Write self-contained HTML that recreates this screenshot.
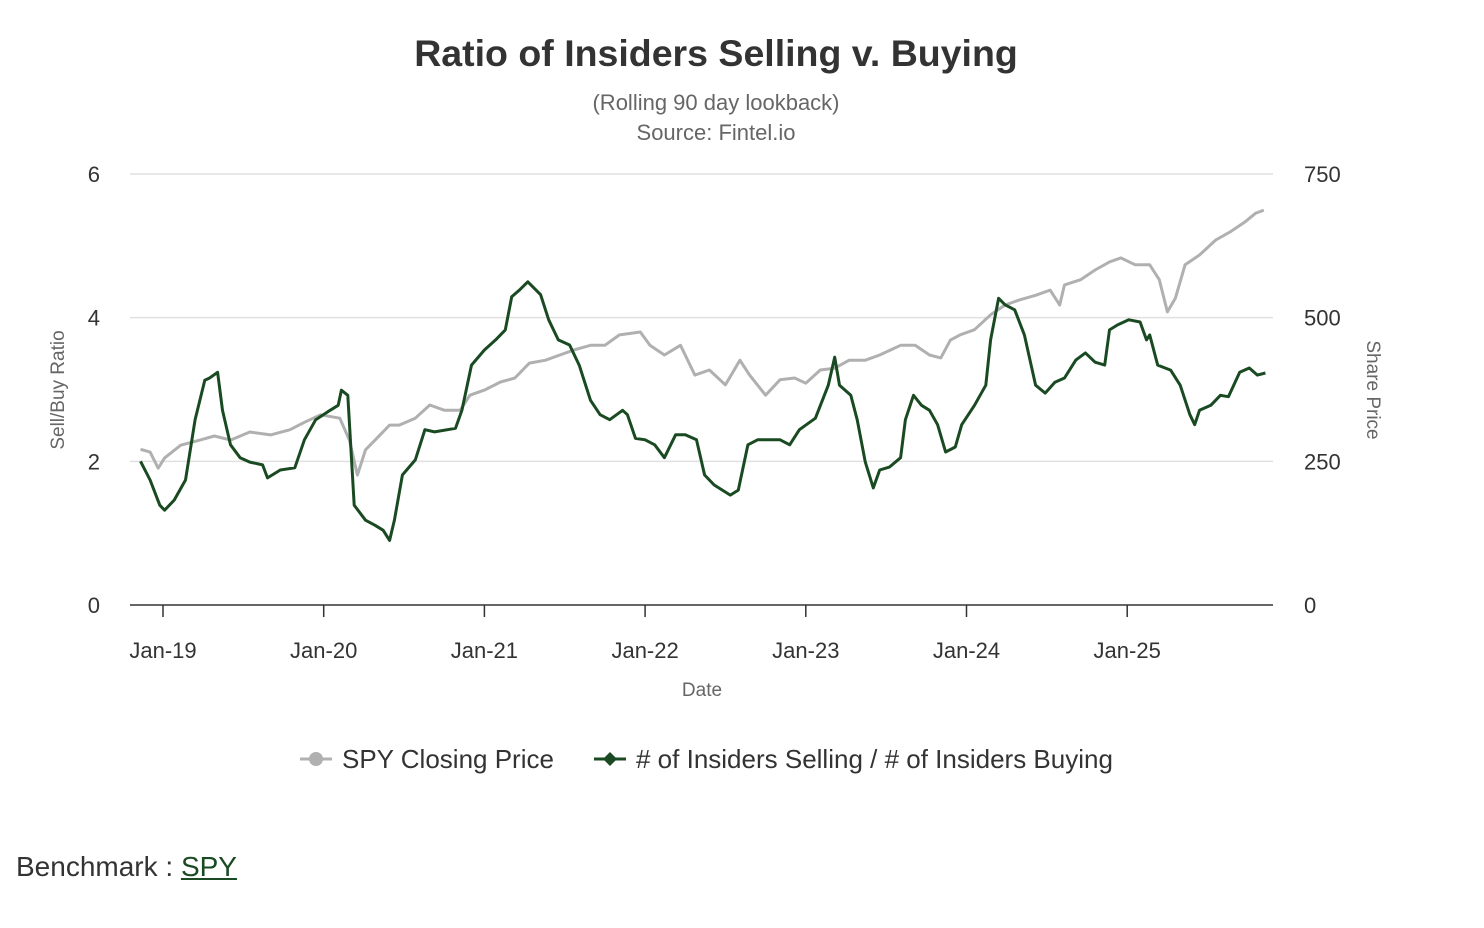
<!DOCTYPE html>
<html><head><meta charset="utf-8">
<style>
body{margin:0;background:#fff;font-family:"Liberation Sans",sans-serif;}
#wrap{position:relative;width:1484px;height:928px;overflow:hidden;}
#bench{position:absolute;left:16px;top:851px;font-size:28px;color:#333;}
#bench a{color:#1a4a22;text-decoration:underline;}
</style></head>
<body>
<div id="wrap">
<svg id="chart" width="1484" height="840">
 <text x="716" y="66" text-anchor="middle" font-size="37.5" font-weight="bold" fill="#333">Ratio of Insiders Selling v. Buying</text>
 <text x="716" y="110" text-anchor="middle" font-size="22" fill="#666">(Rolling 90 day lookback)</text>
 <text x="716" y="140" text-anchor="middle" font-size="22" fill="#666">Source: Fintel.io</text>
 <g id="grid"></g>
 <g id="axes"></g>
 <g id="series"></g>
 <text x="702" y="696" text-anchor="middle" font-size="19" fill="#666">Date</text>
 <text transform="translate(64,390) rotate(-90)" text-anchor="middle" font-size="19" fill="#666">Sell/Buy Ratio</text>
 <text transform="translate(1367,390) rotate(90)" text-anchor="middle" font-size="19" fill="#666">Share Price</text>
 <g>
  <line x1="300" y1="759" x2="332" y2="759" stroke="#b0b0b0" stroke-width="3"/>
  <circle cx="316" cy="759" r="7" fill="#b0b0b0"/>
  <text x="342" y="768" font-size="26" fill="#333">SPY Closing Price</text>
 </g>
 <g>
  <line x1="594" y1="759" x2="626" y2="759" stroke="#1a4a22" stroke-width="3"/>
  <path d="M610 752 L617 759 L610 766 L603 759Z" fill="#1a4a22"/>
  <text x="636" y="768" font-size="26" fill="#333"># of Insiders Selling / # of Insiders Buying</text>
 </g>
</svg>
<div id="bench">Benchmark : <a>SPY</a></div>
</div>
<script>
const ratioDates=[2018.86,2018.92,2018.98,2019.01,2019.07,2019.14,2019.20,2019.26,2019.29,2019.34,2019.37,2019.42,2019.48,2019.54,2019.62,2019.65,2019.73,2019.82,2019.88,2019.95,2020.04,2020.09,2020.11,2020.15,2020.19,2020.26,2020.32,2020.37,2020.41,2020.44,2020.49,2020.57,2020.63,2020.69,2020.82,2020.86,2020.92,2021.00,2021.07,2021.13,2021.17,2021.22,2021.27,2021.35,2021.40,2021.46,2021.53,2021.59,2021.66,2021.72,2021.78,2021.86,2021.89,2021.94,2022.00,2022.06,2022.12,2022.19,2022.25,2022.32,2022.37,2022.43,2022.53,2022.58,2022.64,2022.70,2022.76,2022.84,2022.90,2022.96,2023.06,2023.14,2023.18,2023.21,2023.28,2023.32,2023.37,2023.42,2023.46,2023.52,2023.59,2023.62,2023.67,2023.72,2023.77,2023.82,2023.87,2023.93,2023.97,2024.05,2024.12,2024.15,2024.20,2024.24,2024.30,2024.36,2024.43,2024.49,2024.55,2024.61,2024.68,2024.74,2024.80,2024.86,2024.89,2024.94,2025.01,2025.08,2025.12,2025.14,2025.19,2025.27,2025.33,2025.39,2025.42,2025.45,2025.52,2025.58,2025.63,2025.70,2025.76,2025.81,2025.86];
const ratioValues=[2.00,1.74,1.39,1.32,1.46,1.74,2.58,3.13,3.16,3.24,2.71,2.23,2.05,1.99,1.95,1.77,1.88,1.91,2.30,2.58,2.71,2.78,2.99,2.92,1.39,1.18,1.11,1.04,0.90,1.18,1.81,2.02,2.44,2.41,2.46,2.71,3.34,3.55,3.69,3.83,4.29,4.39,4.50,4.32,3.97,3.69,3.62,3.34,2.85,2.65,2.58,2.71,2.65,2.32,2.30,2.23,2.05,2.37,2.37,2.30,1.81,1.67,1.53,1.60,2.23,2.30,2.30,2.30,2.23,2.44,2.60,3.06,3.45,3.06,2.92,2.58,1.99,1.63,1.88,1.92,2.05,2.58,2.92,2.78,2.71,2.51,2.13,2.20,2.51,2.78,3.06,3.69,4.27,4.18,4.11,3.76,3.06,2.95,3.10,3.16,3.41,3.51,3.38,3.34,3.83,3.90,3.97,3.94,3.69,3.76,3.34,3.27,3.06,2.65,2.51,2.71,2.78,2.92,2.90,3.24,3.30,3.20,3.23];
const priceDates=[2018.86,2018.92,2018.97,2019.01,2019.11,2019.23,2019.32,2019.42,2019.54,2019.67,2019.79,2019.88,2019.98,2020.10,2020.16,2020.21,2020.26,2020.32,2020.41,2020.47,2020.57,2020.66,2020.75,2020.85,2020.91,2021.00,2021.10,2021.19,2021.28,2021.38,2021.47,2021.56,2021.66,2021.75,2021.84,2021.97,2022.03,2022.12,2022.22,2022.31,2022.40,2022.50,2022.59,2022.65,2022.75,2022.84,2022.93,2023.00,2023.09,2023.18,2023.27,2023.37,2023.46,2023.59,2023.68,2023.77,2023.84,2023.90,2023.96,2024.05,2024.15,2024.24,2024.33,2024.43,2024.52,2024.58,2024.61,2024.71,2024.80,2024.89,2024.96,2025.05,2025.14,2025.20,2025.25,2025.30,2025.36,2025.45,2025.55,2025.64,2025.73,2025.80,2025.85];
const priceValues=[271,266,238,256,278,287,294,287,301,296,305,318,331,325,287,226,270,287,313,313,325,348,339,339,365,374,388,395,421,426,435,444,452,452,470,475,452,435,452,400,409,383,426,400,365,392,395,386,409,412,426,426,435,452,452,435,430,461,470,479,505,522,531,539,548,522,557,566,583,597,604,592,592,566,510,534,592,609,635,649,666,682,687];
const xTickLabels=["Jan-19","Jan-20","Jan-21","Jan-22","Jan-23","Jan-24","Jan-25"];
const xTickYears=[2019,2020,2021,2022,2023,2024,2025];
const leftTicks=[0,2,4,6];
const rightTicks=[0,250,500,750];

const NS="http://www.w3.org/2000/svg";
const X=d=>163+(d-2019)*160.7;
const YL=v=>605-v*71.83;
const YR=p=>605-p*431/750;
function mk(tag,attrs,parent,txt){const e=document.createElementNS(NS,tag);for(const k in attrs)e.setAttribute(k,attrs[k]);if(txt!==undefined)e.textContent=txt;parent.appendChild(e);return e;}
const grid=document.getElementById('grid'),axes=document.getElementById('axes'),ser=document.getElementById('series');
leftTicks.forEach((t,i)=>{
 const y=YL(t);
 if(t>0){const g=mk('line',{x1:130,x2:1273,y1:y,y2:y,stroke:'#e0e0e0','stroke-width':1.5},grid);
 
 }
 const l=mk('text',{x:100,y:y+8,'text-anchor':'end','font-size':22,fill:'#333'},axes,String(t));
 
 
});
rightTicks.forEach(t=>{
 const r=mk('text',{x:1304,y:YR(t)+8,'font-size':22,fill:'#333'},axes,String(t));
 
 
});
const ax=mk('line',{x1:130,x2:1273,y1:605,y2:605,stroke:'#333','stroke-width':1.5},axes);


xTickYears.forEach((yr,i)=>{
 const x=X(yr);
 const tk=mk('line',{x1:x,x2:x,y1:605,y2:617,stroke:'#333','stroke-width':1.5},axes);
 
 
 const lb=mk('text',{x:x,y:658,'text-anchor':'middle','font-size':22,fill:'#333'},axes,xTickLabels[i]);
 
 
});
const pp=mk('path',{d:priceDates.map((d,i)=>(i?'L':'M')+X(d).toFixed(1)+' '+YR(priceValues[i]).toFixed(1)).join(''),fill:'none',stroke:'#b0b0b0','stroke-width':3,'stroke-linejoin':'round'},ser);


const rp=mk('path',{d:ratioDates.map((d,i)=>(i?'L':'M')+X(d).toFixed(1)+' '+YL(ratioValues[i]).toFixed(1)).join(''),fill:'none',stroke:'#1a4a22','stroke-width':3,'stroke-linejoin':'round'},ser);


</script>
</body></html>
